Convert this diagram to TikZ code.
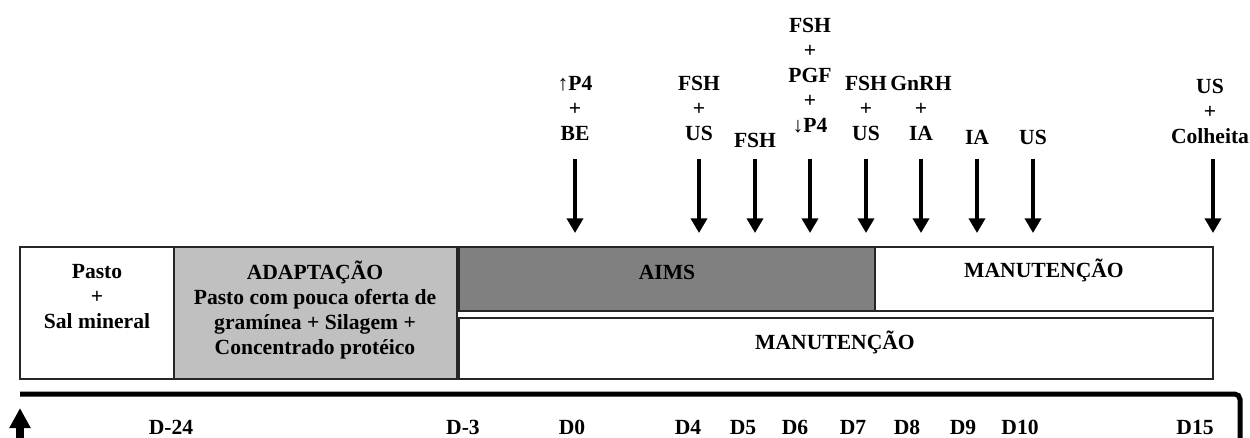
\documentclass[tikz,border=0pt]{standalone}
\usepackage{fontspec}
\setmainfont{Liberation Serif}
\usetikzlibrary{arrows.meta}
\definecolor{adaptgray}{HTML}{C0C0C0}
\definecolor{aimsgray}{HTML}{808080}
\tikzset{
  lbl/.style={font=\fontsize{16.2}{18.75}\selectfont\bfseries, align=center, inner sep=0pt},
  phase/.style={draw=black!85, line width=1.5pt},
  evarrow/.style={line width=2.8pt, -{Triangle[width=12pt,length=11pt]}},
}
\begin{document}
\begin{tikzpicture}[x=0.75pt, y=-0.75pt]
      \useasboundingbox (0,0) rectangle (1250,437);
      % phases
      \draw[phase, fill=white] (20,247) rectangle (174,379);
      \draw[phase, fill=adaptgray] (174,247) rectangle (457,379);
      \draw[phase, fill=aimsgray] (459,247) rectangle (875,311);
      \draw[phase, fill=white] (875,247) rectangle (1213,311);
      \draw[phase, fill=white] (459,318) rectangle (1213,379);
      \draw
        (97,297) node[lbl] (pasto){Pasto\\+\\Sal mineral}
        (315,310) node[lbl] (adapt){ADAPTAÇÃO\\Pasto com pouca oferta de\\gramínea + Silagem +\\Concentrado protéico}
        (667,272) node[lbl] (aims){AIMS}
        (1044,270) node[lbl] (manut1){MANUTENÇÃO}
        (835,342) node[lbl] (manut2){MANUTENÇÃO};
      % events
      \draw
        (575,108) node[lbl] (ev0){↑P4\\+\\BE}
        (699,108) node[lbl] (ev4){FSH\\+\\US}
        (755,140) node[lbl] (ev5){FSH}
        (810,76) node[lbl] (ev6){FSH\\+\\PGF\\+\\↓P4}
        (866,108) node[lbl] (ev7){FSH\\+\\US}
        (921,108) node[lbl] (ev8){GnRH\\+\\IA}
        (977,137) node[lbl] (ev9){IA}
        (1033,137) node[lbl] (ev10){US}
        (1210,111) node[lbl] (ev15){US\\+\\Colheita};
      \coordinate (t0) at (575,159);  \coordinate (h0) at (575,233);
      \coordinate (t4) at (699,159);  \coordinate (h4) at (699,233);
      \coordinate (t5) at (755,159);  \coordinate (h5) at (755,233);
      \coordinate (t6) at (810,159);  \coordinate (h6) at (810,233);
      \coordinate (t7) at (866,159);  \coordinate (h7) at (866,233);
      \coordinate (t8) at (921,159);  \coordinate (h8) at (921,233);
      \coordinate (t9) at (977,159);  \coordinate (h9) at (977,233);
      \coordinate (t10) at (1033,159); \coordinate (h10) at (1033,233);
      \coordinate (t15) at (1213,159); \coordinate (h15) at (1213,233);
      \begin{scope}[evarrow]
        \draw (t0) to (h0);
        \draw (t4) to (h4);
        \draw (t5) to (h5);
        \draw (t6) to (h6);
        \draw (t7) to (h7);
        \draw (t8) to (h8);
        \draw (t9) to (h9);
        \draw (t10) to (h10);
        \draw (t15) to (h15);
      \end{scope}
      % timeline
      \coordinate (start) at (20,394);
      \coordinate (corner) at (1240,394);
      \coordinate (end) at (1240,440);
      \draw[line width=3.75pt, rounded corners=4pt] (start) -- (corner) -- (end);
      \coordinate (up0) at (20,440);
      \coordinate (up1) at (20,408);
      \draw[line width=6pt, -{Triangle[width=15pt,length=15pt]}] (up0) -- (up1);
      \draw
        (171,434) node[lbl, anchor=base] (dm24){D-24}
        (463,434) node[lbl, anchor=base] (dm3){D-3}
        (572,434) node[lbl, anchor=base] (d0){D0}
        (688,434) node[lbl, anchor=base] (d4){D4}
        (743,434) node[lbl, anchor=base] (d5){D5}
        (795,434) node[lbl, anchor=base] (d6){D6}
        (853,434) node[lbl, anchor=base] (d7){D7}
        (907,434) node[lbl, anchor=base] (d8){D8}
        (963,434) node[lbl, anchor=base] (d9){D9}
        (1020,434) node[lbl, anchor=base] (d10){D10}
        (1195,434) node[lbl, anchor=base] (d15){D15};
    \end{tikzpicture}
\end{document}
